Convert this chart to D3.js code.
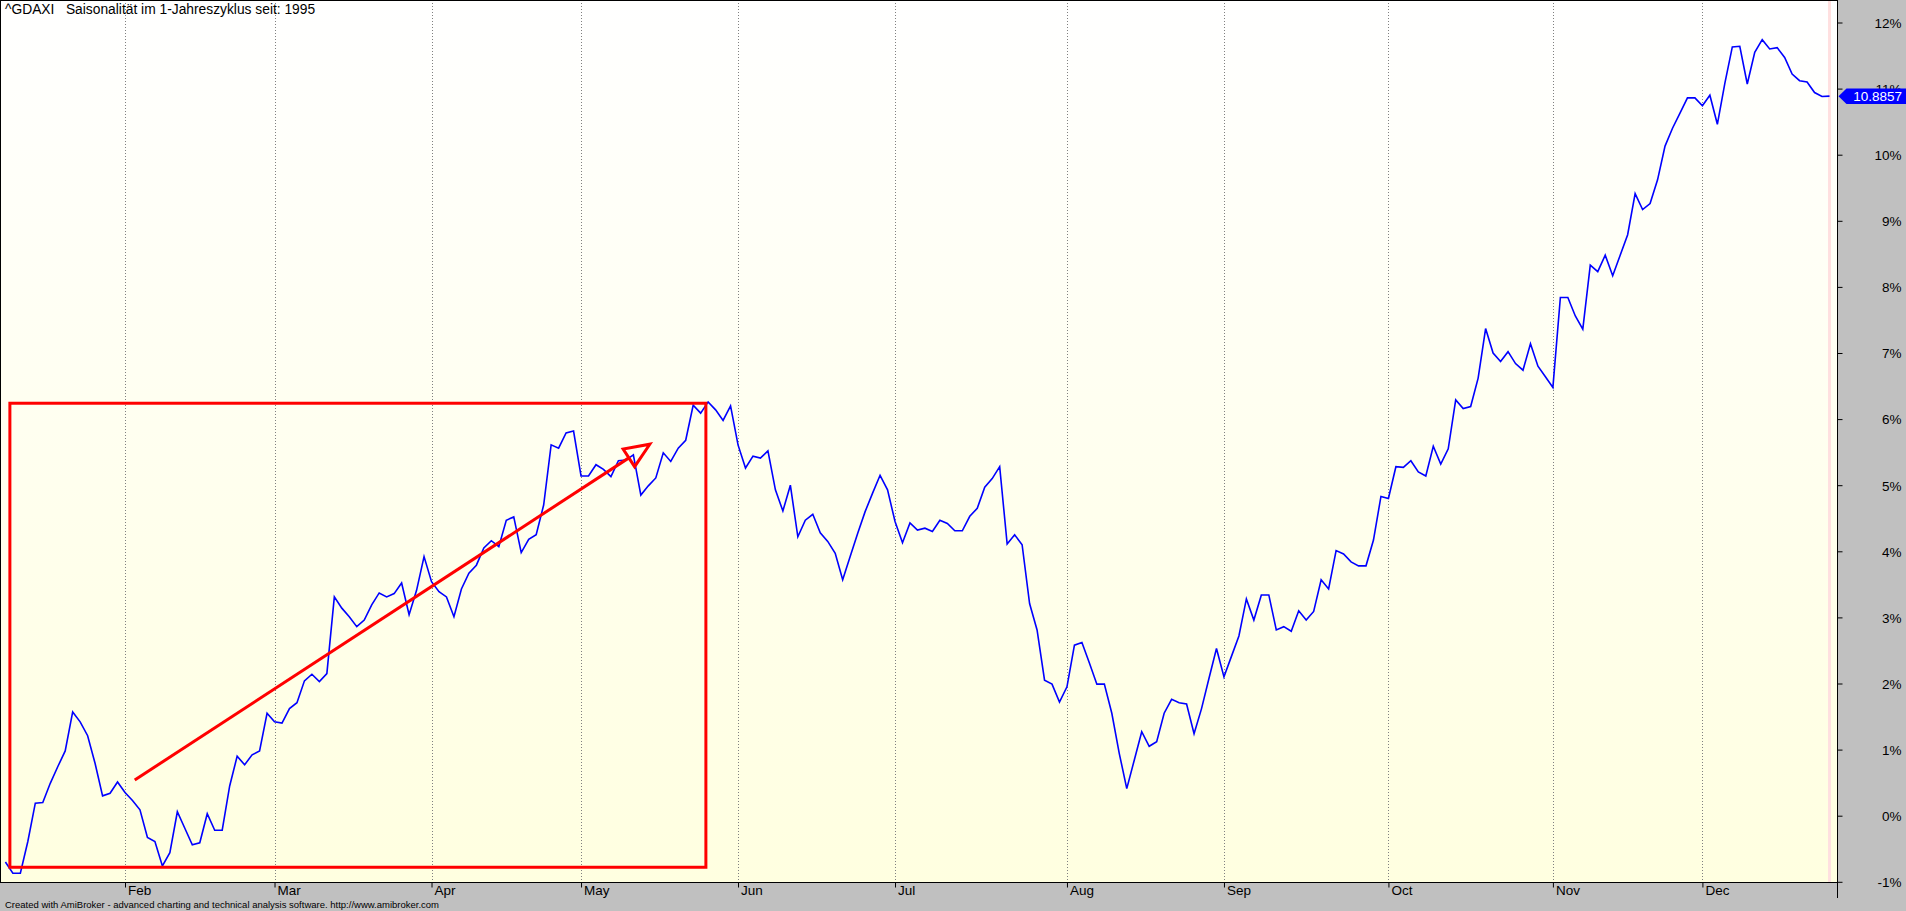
<!DOCTYPE html>
<html>
<head>
<meta charset="utf-8">
<script src="https://cdn.jsdelivr.net/npm/d3@7"></script>
<style>
  html, body { margin: 0; padding: 0; background: #c0c0c0; overflow: hidden; }
  svg { display: block; font-family: "Liberation Sans", Arial, sans-serif; }
  .pre { white-space: pre; }
</style>
</head>
<body>
<svg id="chart" width="1906" height="911"></svg>
<script>
// ---- data ----
const titleText = "^GDAXI   Saisonalität im 1-Jahreszyklus seit: 1995";
const footerText = "Created with AmiBroker - advanced charting and technical analysis software. http://www.amibroker.com";

const monthLabels = ["Feb","Mar","Apr","May","Jun","Jul","Aug","Sep","Oct","Nov","Dec"];
const monthStartIndex = [16, 36, 57, 77, 98, 119, 142, 163, 185, 207, 227];

const yTicks = [-1,0,1,2,3,4,5,6,7,8,9,10,11,12];

// seasonal cumulative return in % per trading day
const values = [
 -0.70,-0.87,-0.87,-0.39,0.19,0.20,0.49,0.74,0.98,1.57,
 1.42,1.21,0.79,0.30,0.34,0.51,0.35,0.23,0.09,-0.33,
 -0.39,-0.76,-0.56,0.06,-0.19,-0.44,-0.41,0.03,-0.22,-0.22,
 0.45,0.90,0.77,0.92,0.98,1.55,1.42,1.40,1.62,1.71,
 2.04,2.14,2.03,2.15,3.31,3.14,3.01,2.86,2.96,3.19,
 3.37,3.31,3.36,3.52,3.04,3.41,3.92,3.54,3.39,3.31,
 3.01,3.43,3.67,3.79,4.05,4.16,4.07,4.47,4.52,3.98,
 4.18,4.25,4.70,5.61,5.56,5.79,5.82,5.14,5.14,5.31,
 5.24,5.13,5.37,5.38,5.46,4.85,4.99,5.11,5.49,5.36,
 5.56,5.68,6.21,6.09,6.26,6.14,5.98,6.20,5.61,5.26,
 5.44,5.41,5.52,4.93,4.61,5.00,4.22,4.47,4.56,4.28,
 4.15,3.97,3.57,3.92,4.27,4.60,4.88,5.15,4.93,4.45,
 4.13,4.43,4.32,4.35,4.30,4.47,4.42,4.31,4.31,4.53,
 4.65,4.97,5.10,5.28,4.11,4.25,4.10,3.21,2.81,2.05,
 1.99,1.72,1.95,2.58,2.62,2.31,1.99,1.99,1.55,0.94,
 0.41,0.84,1.27,1.05,1.12,1.55,1.76,1.71,1.69,1.24,
 1.62,2.08,2.53,2.10,2.41,2.72,3.28,2.96,3.34,3.34,
 2.81,2.86,2.79,3.10,2.96,3.09,3.57,3.43,4.01,3.96,
 3.84,3.78,3.78,4.17,4.83,4.80,5.28,5.27,5.37,5.20,
 5.14,5.59,5.32,5.55,6.29,6.16,6.19,6.62,7.37,7.00,
 6.87,7.02,6.84,6.74,7.14,6.80,6.64,6.48,7.84,7.84,
 7.56,7.36,8.33,8.23,8.48,8.17,8.48,8.79,9.41,9.17,
 9.26,9.62,10.13,10.40,10.63,10.86,10.86,10.74,10.90,10.46,
 11.08,11.63,11.64,11.07,11.55,11.74,11.60,11.62,11.47,11.22,
 11.12,11.10,10.94,10.88,10.8857
];
const lastValueLabel = "10.8857";

// hand-drawn annotation (in data units: bar index, percent)
const annoBox = [0.6, 93.7, 6.24, -0.78];      // x0, x1, yTop, yBottom
const annoArrow = [17.3, 0.54, 86.2, 5.62];    // x0, y0, x1, y1

// ---- layout ----
const W = 1906, H = 911;
const plotRight = 1837, plotBottom = 882;
const FONT = '"Liberation Sans", Arial, sans-serif';

const svg = d3.select("#chart");
const defs = svg.append("defs");
const grad = defs.append("linearGradient").attr("id","bg").attr("x1",0).attr("y1",0).attr("x2",0).attr("y2",1);
grad.append("stop").attr("offset","0%").attr("stop-color","#ffffff");
grad.append("stop").attr("offset","100%").attr("stop-color","#ffffe0");

svg.append("rect").attr("x",0).attr("y",0).attr("width",W).attr("height",H).attr("fill","#c0c0c0");
svg.append("rect").attr("x",0).attr("y",0).attr("width",plotRight).attr("height",plotBottom).attr("fill","url(#bg)");

const x = d3.scaleLinear().domain([0, values.length - 1]).range([5.4, 1829.5]);
const y = d3.scaleLinear().domain([-1, 12]).range([881.8, 22.5]);

// selected-bar marker (pink)
svg.append("line")
  .attr("x1", x(values.length - 1)).attr("x2", x(values.length - 1))
  .attr("y1", 0).attr("y2", plotBottom)
  .attr("stroke", "#ffe0e0").attr("stroke-width", 3);

// month grid lines
svg.append("g").selectAll("line").data(monthStartIndex).join("line")
  .attr("x1", d => Math.round(x(d)) + 0.5).attr("x2", d => Math.round(x(d)) + 0.5)
  .attr("y1", 0).attr("y2", plotBottom)
  .attr("stroke", "#808080").attr("stroke-width", 1).attr("stroke-dasharray", "1,2");

// data line
const line = d3.line().x((d, i) => x(i)).y(d => y(d));
svg.append("path").datum(values)
  .attr("d", line).attr("fill", "none")
  .attr("stroke", "#0000ff").attr("stroke-width", 1.6).attr("stroke-linejoin", "miter");

// annotation box
svg.append("rect")
  .attr("x", x(annoBox[0])).attr("y", y(annoBox[2]))
  .attr("width", x(annoBox[1]) - x(annoBox[0]))
  .attr("height", y(annoBox[3]) - y(annoBox[2]))
  .attr("fill", "none").attr("stroke", "#ff0000").attr("stroke-width", 3);

// annotation arrow
{
  const ax0 = x(annoArrow[0]), ay0 = y(annoArrow[1]);
  const ax1 = x(annoArrow[2]), ay1 = y(annoArrow[3]);
  const dx = ax1 - ax0, dy = ay1 - ay0, len = Math.hypot(dx, dy);
  const ux = dx / len, uy = dy / len, L = 25, hw = 10.5;
  const bx = ax1 - ux * L, by = ay1 - uy * L;
  svg.append("line").attr("x1", ax0).attr("y1", ay0).attr("x2", bx).attr("y2", by)
    .attr("stroke", "#ff0000").attr("stroke-width", 3);
  const pts = [[ax1, ay1], [bx - uy * hw, by + ux * hw], [bx + uy * hw, by - ux * hw]];
  svg.append("polygon").attr("points", pts.map(p => p.join(",")).join(" "))
    .attr("fill", "none").attr("stroke", "#ff0000").attr("stroke-width", 3).attr("stroke-linejoin", "miter");
}

// plot frame (left/top)
svg.append("line").attr("x1",0.5).attr("x2",0.5).attr("y1",0).attr("y2",plotBottom).attr("stroke","#000");
svg.append("line").attr("x1",0).attr("x2",plotRight).attr("y1",0.5).attr("y2",0.5).attr("stroke","#000");

// right axis
const yAxis = d3.axisRight(y).tickValues(yTicks).tickFormat(d => d + "%").tickSize(5).tickSizeOuter(0);
const gy = svg.append("g").attr("transform", `translate(${plotRight + 0.5},0)`).call(yAxis);
gy.select(".domain").attr("d", `M0,0V${898}`).attr("stroke","#000");
gy.selectAll(".tick line").attr("stroke","#000");
gy.selectAll(".tick text")
  .attr("x", 64).attr("text-anchor","end").attr("dy","0.36em")
  .attr("font-size", 13.5).attr("fill","#000").attr("font-family", FONT);

// bottom axis
const xAxis = d3.axisBottom(x).tickValues(monthStartIndex)
  .tickFormat((d, i) => monthLabels[i]).tickSize(5).tickSizeOuter(0);
const gx = svg.append("g").attr("transform", `translate(0,${plotBottom + 0.5})`).call(xAxis);
gx.select(".domain").attr("d", `M0,0H${plotRight}`).attr("stroke","#000");
gx.selectAll(".tick line").attr("stroke","#000");
gx.selectAll(".tick text")
  .attr("x", 2.5).attr("y", 0).attr("dy", "12.5").attr("text-anchor","start")
  .attr("font-size", 13.5).attr("fill","#000").attr("font-family", FONT);

// last value label
{
  const vy = y(values[values.length - 1]);
  const tipX = plotRight + 1.5, h = 15.5;
  svg.append("polygon")
    .attr("points", [[tipX, vy], [tipX + 8, vy - h/2], [W, vy - h/2], [W, vy + h/2], [tipX + 8, vy + h/2]].map(p => p.join(",")).join(" "))
    .attr("fill", "#0000ff");
  svg.append("text").attr("x", 1902).attr("y", vy).attr("dy","0.36em")
    .attr("text-anchor","end").attr("font-size", 13.5).attr("fill","#ffffff")
    .text(lastValueLabel);
}

// title
svg.append("text").attr("class","pre").attr("xml:space","preserve")
  .attr("x", 5).attr("y", 14).attr("font-size", 13.8).attr("fill","#000").text(titleText);

// footer
svg.append("text").attr("x", 5).attr("y", 908).attr("font-size", 9.5).attr("fill","#000").text(footerText);
</script>
</body>
</html>
